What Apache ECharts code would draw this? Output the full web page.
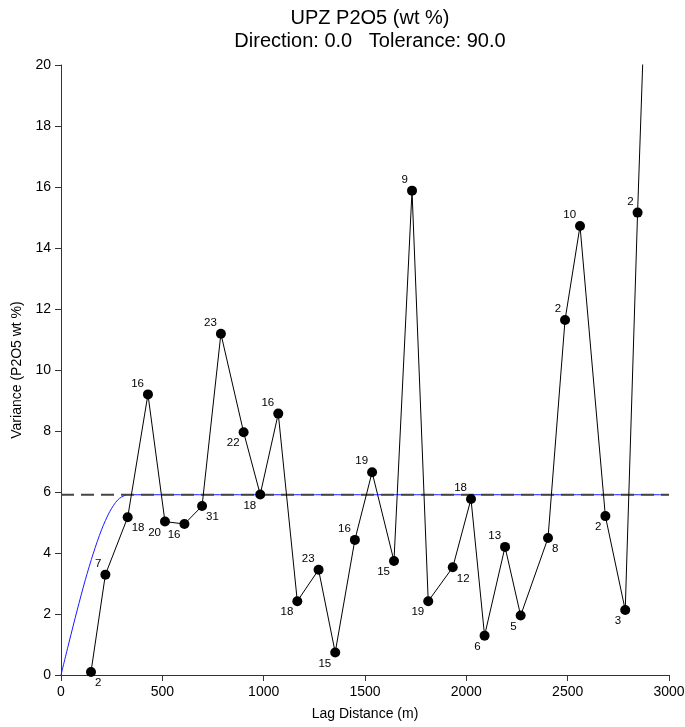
<!DOCTYPE html>
<html>
<head>
<meta charset="utf-8">
<script src="https://cdn.jsdelivr.net/npm/echarts@6/dist/echarts.min.js"></script>
<style>
  html, body { margin: 0; padding: 0; background: #fff; }
  #chart { width: 685px; height: 727px; }
</style>
</head>
<body>
<div id="chart"></div>
<script>
// Experimental semivariogram: lag distance (m), variance, number of pairs per lag
const lags = [148, 219, 329, 429, 513, 609, 696, 789, 901, 983, 1072, 1166, 1271, 1353, 1450, 1535, 1643, 1732, 1812, 1933, 2023, 2090, 2191, 2268, 2403, 2487, 2561, 2686, 2784, 2845, 2930];
const variance = [0.10, 3.29, 5.17, 9.20, 5.03, 4.95, 5.54, 11.19, 7.96, 5.92, 8.57, 2.42, 3.45, 0.74, 4.43, 6.65, 3.74, 15.88, 2.42, 3.53, 5.77, 1.29, 4.20, 1.95, 4.49, 11.64, 14.72, 5.21, 2.13, 15.16, 31.6];
const pairs = [2, 7, 18, 16, 20, 16, 31, 23, 22, 18, 16, 18, 23, 15, 16, 19, 15, 9, 19, 12, 18, 6, 13, 5, 8, 2, 10, 2, 3, 2, null];

// Fitted model curve and the sill level
const modelLag = [0, 40, 80, 120, 160, 200, 240, 280, 320, 340, 3000];
const modelVar = [0, 1.08, 2.13, 3.12, 4.0, 4.76, 5.35, 5.74, 5.9, 5.91, 5.91];
const sill = 5.91;

const xTicks = { min: 0, max: 3000, step: 500 };
const yTicks = { min: 0, max: 20, step: 2 };

// Where each pair-count label sits around its point
const labelSide = ['lr', 'ul', 'lr', 'ul', 'll', 'll', 'lr', 'ul', 'll', 'll', 'ul', 'll', 'ul', 'll', 'ul', 'ul', 'll', 'ul', 'll', 'lr', 'ul', 'll', 'ul', 'll', 'lr', 'ul', 'ul', 'll', 'll', 'ul', 'll'];

const FONT = '"Liberation Sans", Arial, Helvetica, sans-serif';

const pointData = lags.map((x, i) => {
  const txt = pairs[i] == null ? '' : String(pairs[i]);
  const w = txt.length * 6.4;
  const side = labelSide[i];
  const dx = (side[1] === 'l' ? -1 : 1) * (4 + w / 2);
  const dy = side[0] === 'u' ? -11 : 11;
  return {
    value: [x, variance[i]],
    label: { offset: [dx, dy] }
  };
});

const chart = echarts.init(document.getElementById('chart'), null, { renderer: 'canvas' });
chart.setOption({
  animation: false,
  backgroundColor: '#fff',
  title: {
    text: 'UPZ P2O5 (wt %)\nDirection: 0.0   Tolerance: 90.0',
    left: 365,
    top: 2,
    textAlign: 'center',
    textStyle: { fontFamily: FONT, fontSize: 20, fontWeight: 'normal', color: '#000', lineHeight: 23 }
  },
  grid: { left: 61, right: 16, top: 65, bottom: 52, containLabel: false, outerBoundsMode: 'none' },
  xAxis: {
    type: 'value',
    min: xTicks.min, max: xTicks.max, interval: xTicks.step,
    name: 'Lag Distance (m)',
    nameLocation: 'middle',
    nameGap: 32,
    nameTextStyle: { fontFamily: FONT, fontSize: 14, color: '#000' },
    axisLine: { show: true, onZero: false, lineStyle: { color: '#333', width: 1 } },
    axisTick: { show: true, length: 6, lineStyle: { color: '#333' } },
    axisLabel: { fontFamily: FONT, fontSize: 14, color: '#000', margin: 10, formatter: (v) => String(v) },
    splitLine: { show: false }
  },
  yAxis: {
    type: 'value',
    min: yTicks.min, max: yTicks.max, interval: yTicks.step,
    name: 'Variance (P2O5 wt %)',
    nameLocation: 'middle',
    nameGap: 36,
    nameTextStyle: { fontFamily: FONT, fontSize: 14, color: '#000' },
    axisLine: { show: true, onZero: false, lineStyle: { color: '#333', width: 1 } },
    axisTick: { show: true, length: 6, lineStyle: { color: '#333' } },
    axisLabel: { fontFamily: FONT, fontSize: 14, color: '#000', margin: 10, formatter: (v) => String(v) },
    splitLine: { show: false }
  },
  series: [
    {
      name: 'model',
      type: 'line',
      data: modelLag.map((x, i) => [x, modelVar[i]]),
      smooth: 0.3,
      showSymbol: false,
      symbol: 'none',
      lineStyle: { color: '#1a1aff', width: 1 },
      z: 2
    },
    {
      name: 'sill',
      type: 'line',
      data: [[xTicks.min, sill], [xTicks.max, sill]],
      showSymbol: false,
      symbol: 'none',
      lineStyle: { color: '#444', width: 2, type: [13, 7] },
      z: 3
    },
    {
      name: 'experimental',
      type: 'line',
      data: pointData,
      clip: true,
      symbol: 'circle',
      symbolSize: 10,
      itemStyle: { color: '#000' },
      lineStyle: { color: '#000', width: 1 },
      label: {
        show: true,
        position: 'inside',
        align: 'center',
        verticalAlign: 'middle',
        fontFamily: FONT,
        fontSize: 11.5,
        color: '#000',
        formatter: (p) => (pairs[p.dataIndex] == null ? '' : String(pairs[p.dataIndex]))
      },
      z: 4
    }
  ]
});
</script>
</body>
</html>
